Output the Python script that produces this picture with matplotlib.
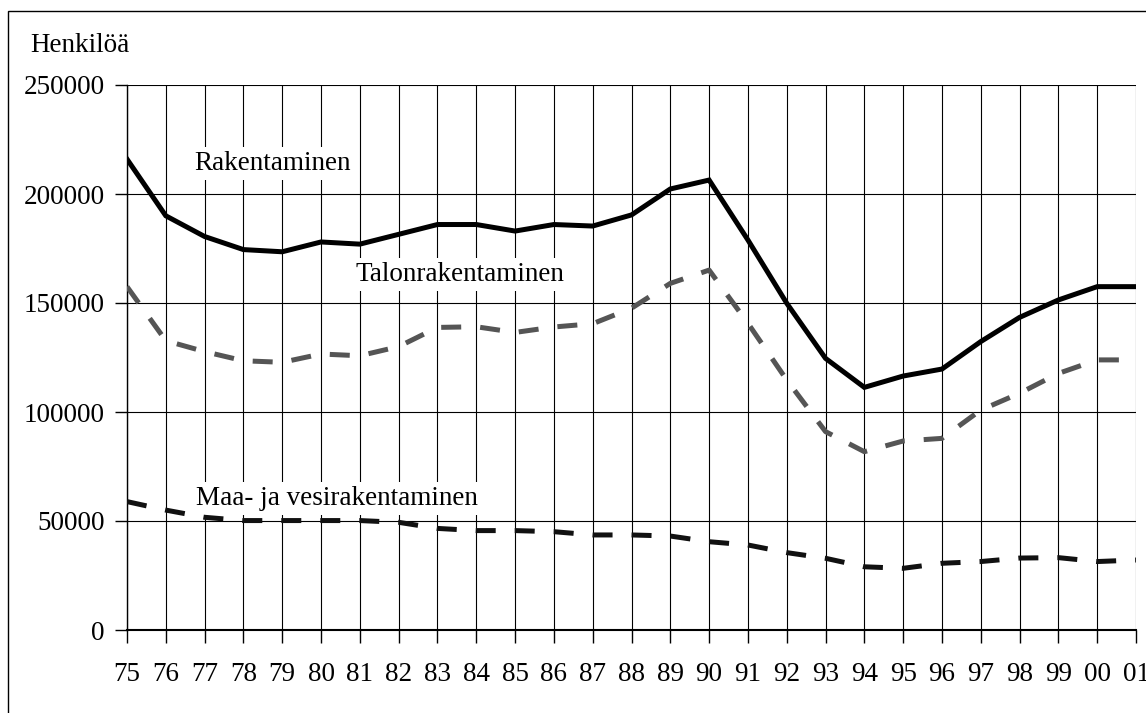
import matplotlib
matplotlib.use("Agg")
import matplotlib.pyplot as plt
from matplotlib.patches import Rectangle

plt.rcParams.update({
    "font.family": ["Liberation Serif", "DejaVu Serif"],
    "font.size": 19.5,
})

years = ["75", "76", "77", "78", "79", "80", "81", "82", "83", "84", "85", "86", "87",
         "88", "89", "90", "91", "92", "93", "94", "95", "96", "97", "98", "99", "00", "01"]
rakentaminen = [216000, 190000, 180500, 174500, 173500, 178000, 177000, 181500, 186000,
                186000, 183000, 186000, 185300, 190400, 202300, 206400, 178900, 149900,
                124600, 111300, 116500, 119700, 132300, 143400, 151400, 157500, 157500]
talonrakentaminen = [157500, 132700, 127700, 123500, 122800, 126600, 125800, 130000, 138800,
                     139100, 136500, 139000, 140500, 147600, 159000, 165100, 140700, 114700,
                     91000, 81800, 86700, 87900, 100900, 108600, 117700, 123900, 123900]
maa_vesi = [58900, 55000, 51700, 50200, 50200, 50200, 50200, 49400, 46600, 45600, 45600,
            45100, 43600, 43600, 43100, 40500, 39000, 35500, 32900, 29000, 28300, 30600,
            31400, 33000, 33200, 31400, 32100]
yticks = [0, 50000, 100000, 150000, 200000, 250000]

x = list(range(len(years)))

fig = plt.figure(figsize=(11.46, 7.13), dpi=100)
ax = fig.add_axes([127 / 1146, 83 / 713, (1136 - 127) / 1146, (630 - 85) / 713])

# outer frame of the chart area
fig.patches.append(Rectangle((8 / 1146, -0.1), 1.2, 1.1 - 11 / 713,
                             transform=fig.transFigure, fill=False,
                             edgecolor="black", linewidth=1.0))

ax.plot(x, rakentaminen, color="black", lw=3.6, solid_joinstyle="miter", zorder=4)
ax.plot(x, talonrakentaminen, color="#555555", lw=3.6, dashes=(4, 3.8),
        dash_capstyle="butt", zorder=4)
ax.plot(x, maa_vesi, color="#111111", lw=3.6, dashes=(4, 3.8),
        dash_capstyle="butt", zorder=4)

ax.set_xlim(0, len(years) - 1)
ax.set_ylim(0, 250000)
ax.set_xticks(x)
ax.set_xticklabels(years)
ax.set_yticks(yticks)
ax.set_yticklabels([str(v) for v in yticks])
ax.grid(True, color="black", lw=0.8)
ax.set_axisbelow(True)
ax.tick_params(axis="x", length=9, width=1, pad=14)
ax.tick_params(axis="y", length=9, width=1, pad=7)
for side in ["top", "right"]:
    ax.spines[side].set_visible(False)
ax.spines["left"].set_linewidth(1.0)
ax.spines["bottom"].set_linewidth(1.5)

fig.text(30 / 1146, 1 - 45 / 713, "Henkilöä", ha="left", va="center")

box = dict(facecolor="white", edgecolor="none", pad=3)
ax.text(3.75, 214000, "Rakentaminen", ha="center", va="center", bbox=box, zorder=3)
ax.text(8.58, 163000, "Talonrakentaminen", ha="center", va="center", bbox=box, zorder=3)
ax.text(5.4, 60500, "Maa- ja vesirakentaminen", ha="center", va="center", bbox=box, zorder=3)

fig.savefig("out.png", dpi=100)
